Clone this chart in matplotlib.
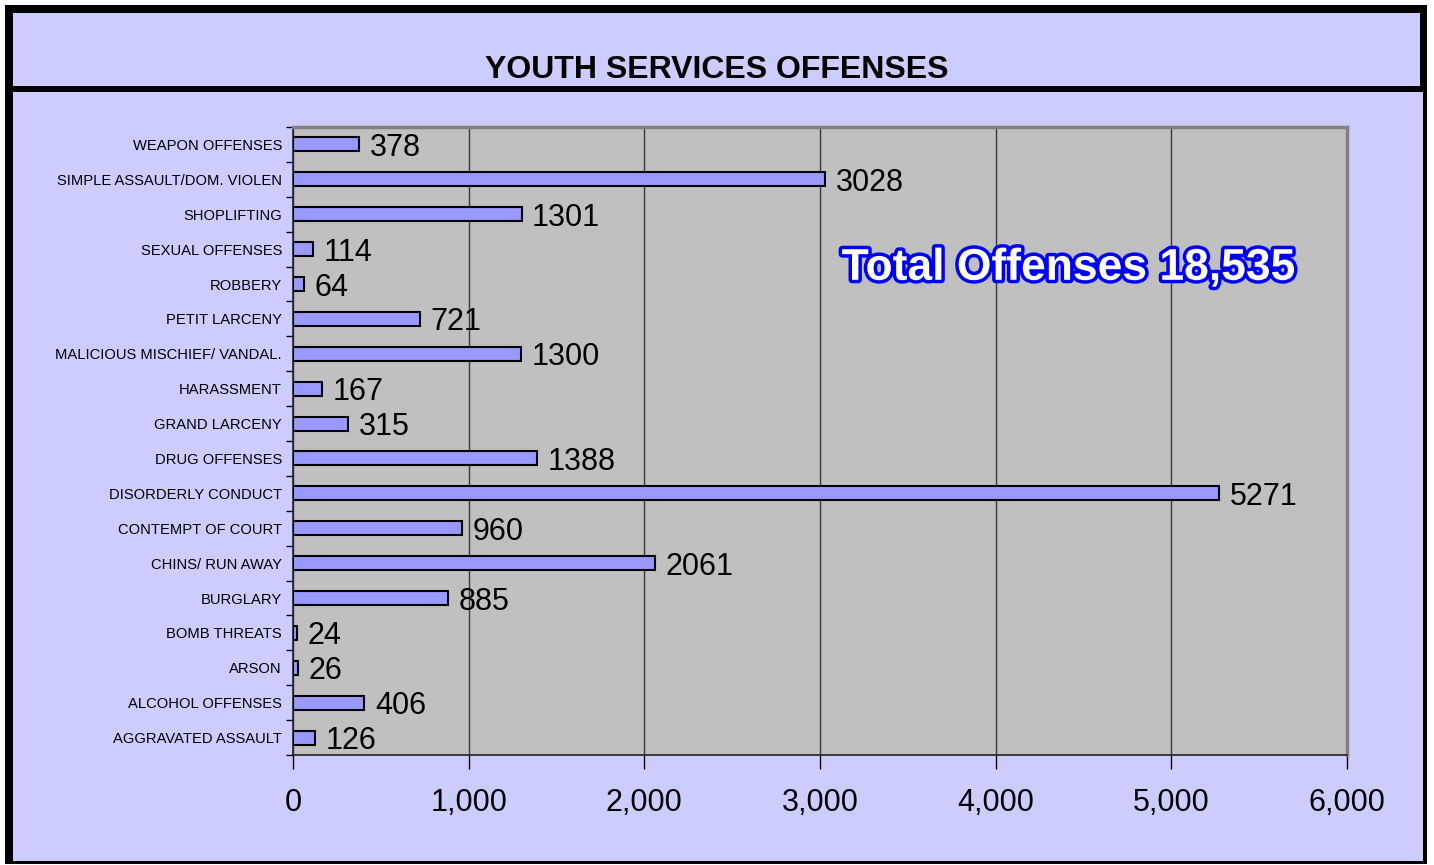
import matplotlib
matplotlib.use("Agg")
import matplotlib.pyplot as plt
import matplotlib.patheffects as pe
from matplotlib.patches import Rectangle
from matplotlib.ticker import FuncFormatter, FixedLocator

categories = ["AGGRAVATED ASSAULT", "ALCOHOL OFFENSES", "ARSON", "BOMB THREATS",
              "BURGLARY", "CHINS/ RUN AWAY", "CONTEMPT OF COURT", "DISORDERLY CONDUCT",
              "DRUG OFFENSES", "GRAND LARCENY", "HARASSMENT", "MALICIOUS MISCHIEF/ VANDAL.",
              "PETIT LARCENY", "ROBBERY", "SEXUAL OFFENSES", "SHOPLIFTING",
              "SIMPLE ASSAULT/DOM. VIOLEN", "WEAPON OFFENSES"]
values = [126, 406, 26, 24, 885, 2061, 960, 5271, 1388, 315, 167, 1300, 721, 64, 114,
          1301, 3028, 378]
x_ticks = [0, 1000, 2000, 3000, 4000, 5000, 6000]
title = "YOUTH SERVICES OFFENSES"
note = "Total Offenses 18,535"

plt.rcParams['font.family'] = ['Liberation Sans', 'DejaVu Sans']

W, H = 1434, 865
fig = plt.figure(figsize=(W / 100, H / 100), dpi=100, facecolor="white")

def px_rect(x0, y0, x1, y1, color):
    fig.patches.append(Rectangle((x0 / W, 1 - y1 / H), (x1 - x0) / W, (y1 - y0) / H,
                                 transform=fig.transFigure, facecolor=color,
                                 edgecolor="none", zorder=-5))

px_rect(5, 5, 1427, 864, "black")
px_rect(13, 13, 1420, 86, "#CCCCFF")
px_rect(13, 92, 1423, 861, "#CCCCFF")

fig.text(0.5, 1 - 70 / H, title, ha="center", va="center", fontsize=23,
         fontweight="bold", color="black")

ax = fig.add_axes([293 / W, 1 - 755 / H, (1347 - 293) / W, (755 - 127) / H])
ax.set_zorder(2)
ax.set_facecolor("#C0C0C0")
ypos = list(range(len(categories)))
ax.barh(ypos, values, height=0.4, color="#9999FF", edgecolor="black", linewidth=1.5, zorder=3)
for y, v in zip(ypos, values):
    ax.text(v + 60, y, str(v), va="center_baseline", ha="left", fontsize=22,
            color="black", zorder=4)

ax.set_xlim(0, 6000)
ax.set_ylim(-0.5, len(categories) - 0.5)
ax.set_xticks(x_ticks)
ax.xaxis.set_major_formatter(FuncFormatter(lambda v, p: f"{int(v):,}"))
ax.tick_params(axis="x", labelsize=22, length=10, width=1, pad=14, colors="black")
ax.set_yticks(ypos)
ax.set_yticklabels(categories, fontsize=10.6)
ax.tick_params(axis="y", which="major", length=0, pad=8)
ax.yaxis.set_minor_locator(FixedLocator([i - 0.5 for i in range(len(categories) + 1)]))
ax.tick_params(axis="y", which="minor", length=5, width=1, direction="out")
ax.grid(axis="x", color="#3a3a3a", linewidth=1, zorder=1)
ax.set_axisbelow(True)
for s in ["top", "right"]:
    ax.spines[s].set_color("#808080")
    ax.spines[s].set_linewidth(2.5)
for s in ["left", "bottom"]:
    ax.spines[s].set_color("#222222")
    ax.spines[s].set_linewidth(1.2)

ax.text(0.736, 0.775, note, transform=ax.transAxes, ha="center", va="center",
        fontsize=32, fontweight="bold", color="white", zorder=5,
        path_effects=[pe.Stroke(linewidth=5, foreground="#0000FF"), pe.Normal()])

fig.savefig("out.png", dpi=100, facecolor=fig.get_facecolor())
